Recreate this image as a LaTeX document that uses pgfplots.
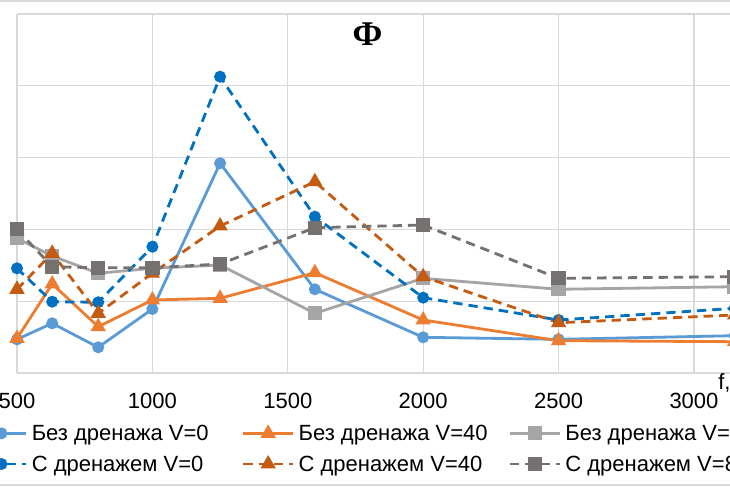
\documentclass[border=0pt]{standalone}
\usepackage{fontspec}
\setmainfont{Liberation Sans}
\newfontfamily\titlefont{Liberation Serif}
\usepackage{pgfplots}
\pgfplotsset{compat=1.18}
\definecolor{sA}{HTML}{5B9BD5}
\definecolor{sB}{HTML}{ED7D31}
\definecolor{sC}{HTML}{A5A5A5}
\definecolor{sD}{HTML}{0070C0}
\definecolor{sE}{HTML}{C55A11}
\definecolor{sF}{HTML}{767171}
\definecolor{gridc}{HTML}{D9D9D9}
\newcommand\chartfont{\fontsize{16.5pt}{19pt}\selectfont}
\newcommand\legtext[1]{\makebox[150pt][l]{\rule[-4pt]{0pt}{17pt}#1}}
\begin{document}
\begin{tikzpicture}
\useasboundingbox (0,0) rectangle (547.5pt,364.5pt);
\clip (0,0) rectangle (547.5pt,364.5pt);
\fill[white] (0,0) rectangle (547.5pt,364.5pt);
\fill[gridc] (0,363pt) rectangle (547.5pt,364.5pt);
\fill[gridc] (0,0) rectangle (547.5pt,1.5pt);
\begin{axis}[
  at={(12.75pt,84.75pt)}, anchor=south west,
  scale only axis, width=568.65pt, height=269.25pt,
  xmin=500, xmax=3300, ymin=0, ymax=5,
  clip=false,
  axis line style={draw=none},
  grid=major,
  major grid style={draw=gridc, line width=1pt},
  major tick length=0pt,
  xtick={500,1000,1500,2000,2500,3000},
  xticklabels={500,1000,1500,2000,2500,3000},
  ytick={0,1,2,3,4,5},
  yticklabels={,,,,,},
  scaled x ticks=false,
  xticklabel style={font=\chartfont, anchor=base, inner sep=0pt, yshift=-26.25pt},
  xlabel={f, Гц},
  xlabel style={font=\chartfont, at={(rel axis cs:0.9246,-0.0446)}, anchor=base west, inner sep=0pt},
  title={\titlefont\bfseries Ф},
  every axis title shift=0pt,
  title style={font=\fontsize{26pt}{30pt}\selectfont, at={(rel axis cs:0.4624,0.9136)}, anchor=base, inner sep=0pt},
  legend columns=3,
  legend image code/.code={\draw[mark repeat=2,mark phase=2,#1] plot coordinates {(0pt,0pt) (18.75pt,0pt) (37.5pt,0pt)};},
  legend style={at={(rel axis cs:-0.0554,-0.1411)}, anchor=north west, draw=none, fill=none,
    inner sep=0pt, outer sep=0pt, font=\chartfont, row sep=8.5pt,
    nodes={inner sep=0pt},
    /tikz/every odd column/.append style={column sep=3pt},
    /tikz/every even column/.append style={column sep=7.5pt}},
  every axis plot/.append style={line width=2.1pt},
]
\addplot[color=sA, solid, mark=*, mark size=3.4pt, mark options={solid}] coordinates {(500,0.469)(630,0.692)(800,0.358)(1000,0.891)(1250,2.921)(1600,1.166)(2000,0.497)(2500,0.469)(3150,0.52)};
\addlegendentry{\legtext{Без дренажа V=0}}
\addplot[color=sB, solid, mark=triangle*, mark size=4.6pt, mark options={solid}] coordinates {(500,0.483)(630,1.24)(800,0.645)(1000,1.017)(1250,1.04)(1600,1.397)(2000,0.738)(2500,0.45)(3150,0.436)};
\addlegendentry{\legtext{Без дренажа V=40}}
\addplot[color=sC, solid, mark=square*, mark size=4.3pt, mark options={solid}] coordinates {(500,1.876)(630,1.63)(800,1.389)(1000,1.458)(1250,1.504)(1600,0.831)(2000,1.319)(2500,1.166)(3150,1.202)};
\addlegendentry{\legtext{Без дренажа V=80}}
\addplot[color=sD, dash pattern=on 7pt off 4.5pt, mark=*, mark size=3.4pt, mark options={solid}] coordinates {(500,1.458)(630,0.993)(800,0.985)(1000,1.759)(1250,4.127)(1600,2.177)(2000,1.049)(2500,0.738)(3150,0.901)};
\addlegendentry{\legtext{С дренажем V=0}}
\addplot[color=sE, dash pattern=on 7pt off 4.5pt, mark=triangle*, mark size=4.6pt, mark options={solid}] coordinates {(500,1.166)(630,1.667)(800,0.831)(1000,1.389)(1250,2.047)(1600,2.664)(2000,1.341)(2500,0.70)(3150,0.808)};
\addlegendentry{\legtext{С дренажем V=40}}
\addplot[color=sF, dash pattern=on 7pt off 4.5pt, mark=square*, mark size=4.3pt, mark options={solid}] coordinates {(500,2.001)(630,1.48)(800,1.466)(1000,1.466)(1250,1.518)(1600,2.024)(2000,2.061)(2500,1.319)(3150,1.341)};
\addlegendentry{\legtext{С дренажем V=80}}
\end{axis}
\end{tikzpicture}
\end{document}
